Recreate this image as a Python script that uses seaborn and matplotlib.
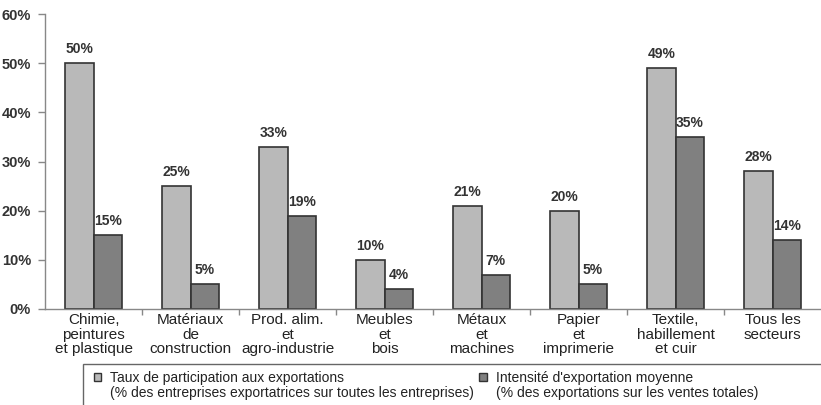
import matplotlib
matplotlib.use("Agg")
import matplotlib.pyplot as plt
import matplotlib.patches as mpatches
from matplotlib.legend_handler import HandlerPatch
import seaborn as sns
import pandas as pd
import numpy as np

# Sectors (x-axis groups)
categories = [
    "Chimie,\npeintures\net plastique",
    "Matériaux\nde\nconstruction",
    "Prod. alim.\net\nagro-industrie",
    "Meubles\net\nbois",
    "Métaux\net\nmachines",
    "Papier\net\nimprimerie",
    "Textile,\nhabillement\net cuir",
    "Tous les\nsecteurs",
]

# Series values (percent)
participation = [50, 25, 33, 10, 21, 20, 49, 28]
intensite = [15, 5, 19, 4, 7, 5, 35, 14]

series_names = [
    "Taux de participation aux exportations\n(% des entreprises exportatrices sur toutes les entreprises)",
    "Intensité d'exportation moyenne\n(% des exportations sur les ventes totales)",
]
y_ticks = [0, 10, 20, 30, 40, 50, 60]
y_tick_labels = [f"{v}%" for v in y_ticks]

df = pd.DataFrame({
    "secteur": categories * 2,
    "serie": [series_names[0]] * len(categories) + [series_names[1]] * len(categories),
    "valeur": participation + intensite,
})

sns.set_theme(style="white")
plt.rcParams["font.family"] = ["Liberation Sans", "DejaVu Sans"]

fig = plt.figure(figsize=(8.21, 4.05), dpi=100)
ax = fig.add_axes([45 / 821, 1 - 309 / 405, 1 - 45 / 821, (309 - 14) / 405])

palette = {series_names[0]: "#b9b9b9", series_names[1]: "#808080"}
sns.barplot(
    data=df, x="secteur", y="valeur", hue="serie", order=categories,
    hue_order=series_names, palette=palette, width=0.58, dodge=True,
    edgecolor="#333333", linewidth=1.2, saturation=1, ax=ax,
)
ax.get_legend().remove()

for cont in ax.containers:
    ax.bar_label(cont, labels=[f"{v:.0f}%" for v in cont.datavalues],
                 padding=5, fontsize=10, fontweight="bold", color="#333333")

ax.set_xlim(-0.5, len(categories) - 0.5)
ax.set_ylim(0, 60)
ax.set_yticks(y_ticks)
ax.set_yticklabels(y_tick_labels, fontsize=10.5, fontweight="bold", color="#333333")
ax.set_xticks(range(len(categories)))
ax.set_xticklabels(categories, fontsize=11, color="#222222", linespacing=1.05)
ax.set_xticks(np.arange(0.5, len(categories) - 0.5, 1), minor=True)
ax.tick_params(axis="x", which="major", length=0, pad=3)
ax.tick_params(axis="x", which="minor", length=4, width=1, color="#888888", direction="out", bottom=True)
ax.tick_params(axis="y", length=5, width=1, color="#888888", direction="out", left=True, pad=5)
ax.set_xlabel("")
ax.set_ylabel("")

for side in ("top", "right"):
    ax.spines[side].set_visible(False)
for side in ("left", "bottom"):
    ax.spines[side].set_color("#888888")
    ax.spines[side].set_linewidth(1.0)

# Legend box along the bottom edge
box = mpatches.Rectangle((83 / 821, -0.05), 1.0, 1 - 364 / 405 + 0.05,
                         transform=fig.transFigure, fill=False,
                         edgecolor="#666666", linewidth=1.0)
fig.add_artist(box)


def top_square(legend, orig_handle, xdescent, ydescent, width, height, fontsize):
    # square swatch lifted to sit beside the first line of a two-line label
    return mpatches.Rectangle((-xdescent, -ydescent + 0.62 * fontsize), width, height)


handles = [mpatches.Patch(facecolor=palette[s], edgecolor="#333333", linewidth=1.0) for s in series_names]
leg = fig.legend(handles, series_names, loc="upper left",
                 bbox_to_anchor=(84 / 821, 1 - 361 / 405), ncol=2, frameon=False,
                 fontsize=10, handlelength=0.55, handleheight=0.55,
                 handletextpad=0.65, columnspacing=0.35, borderpad=0.2,
                 handler_map={mpatches.Patch: HandlerPatch(patch_func=top_square)})
for t in leg.get_texts():
    t.set_color("#222222")
    t.set_linespacing(1.1)

fig.savefig("out.png", dpi=100)
